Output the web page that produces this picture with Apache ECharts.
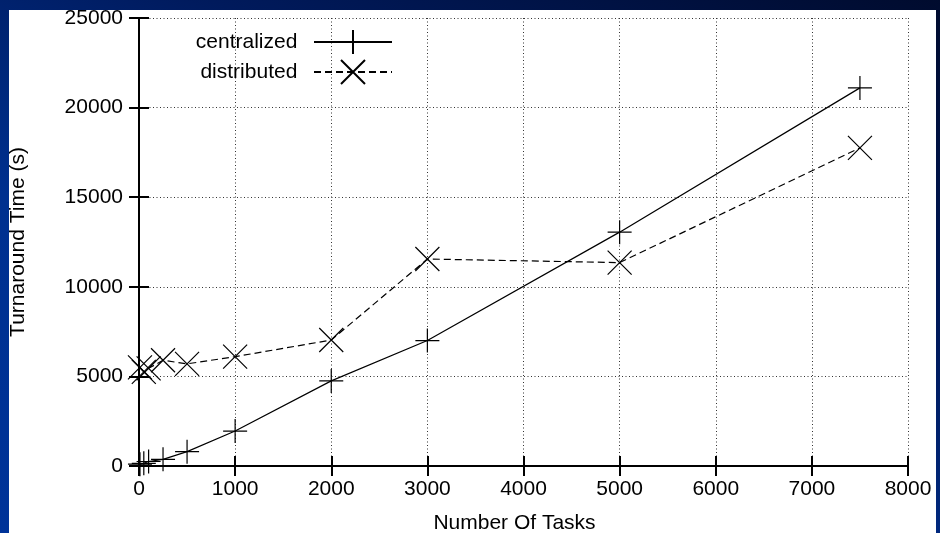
<!DOCTYPE html>
<html>
<head>
<meta charset="utf-8">
<title>Turnaround Time</title>
<script src="https://cdn.jsdelivr.net/npm/echarts@6/dist/echarts.min.js"></script>
<style>
  html, body { margin: 0; padding: 0; width: 940px; height: 533px; overflow: hidden; }
  body { background: linear-gradient(205deg, #000b2e 0%, #001a5c 35%, #00308f 65%, #003399 100%); position: relative; }
  #panel { position: absolute; left: 9px; top: 10px; width: 927px; height: 523px; background: #fff; }
  #main { position: absolute; left: 0; top: 0; width: 940px; height: 533px; }
</style>
</head>
<body>
<div id="panel"></div>
<div id="main"></div>
<script>
// number of tasks
var tasks = [10, 50, 100, 250, 500, 1000, 2000, 3000, 5000, 7500];
// turnaround time (s)
var centralized = [100, 150, 250, 370, 800, 1950, 4750, 7000, 13050, 21100];
var distributed = [5500, 5250, 5450, 5900, 5700, 6100, 7030, 11550, 11350, 17750];

var fontFamily = "'Liberation Sans', Arial, sans-serif";

function pairs(xs, ys) {
  return xs.map(function (x, i) { return [x, ys[i]]; });
}

// plain numbers, no thousands separator
function plain(v) { return String(v); }

var chart = echarts.init(document.getElementById('main'), null, { renderer: 'canvas' });

var frameAxis = {
  axisLine: { show: true, lineStyle: { color: '#000', width: 2 } },
  axisTick: { show: true, inside: true, length: 10, lineStyle: { color: '#000', width: 2 } },
  axisLabel: { show: false },
  splitLine: { show: false }
};

var legendBase = {
  orient: 'vertical',
  right: 547,
  padding: 0,
  align: 'right',
  itemWidth: 78,
  itemHeight: 30,
  formatter: function (name) { return name + '  '; },
  textStyle: { fontSize: 21, color: '#000', fontFamily: fontFamily }
};

var option = {
  backgroundColor: 'transparent',
  animation: false,
  textStyle: { fontFamily: fontFamily },
  grid: { left: 139, right: 32, top: 18, bottom: 67, containLabel: false, outerBoundsMode: 'none' },
  legend: [
    Object.assign({ data: ['centralized'], top: 29 }, legendBase),
    Object.assign({ data: ['distributed'], top: 59 }, legendBase)
  ],
  xAxis: [
    {
      type: 'value',
      min: 0,
      max: 8000,
      interval: 1000,
      name: 'Number Of Tasks',
      nameLocation: 'middle',
      nameGap: 47,
      nameTextStyle: { fontSize: 21, color: '#000', fontFamily: fontFamily, padding: [0, 18, 0, 0] },
      axisLine: { show: true, onZero: false, lineStyle: { color: '#000', width: 2 } },
      axisTick: { show: true, inside: true, length: 10, lineStyle: { color: '#000', width: 2 } },
      axisLabel: { margin: 13, fontSize: 21, color: '#000', fontFamily: fontFamily, formatter: plain },
      splitLine: { show: true, lineStyle: { color: '#333', width: 1, type: [1, 2.5] } }
    },
    Object.assign({ type: 'value', position: 'top', min: 0, max: 8000, interval: 1000 }, frameAxis)
  ],
  yAxis: [
    {
      type: 'value',
      min: 0,
      max: 25000,
      interval: 5000,
      name: 'Turnaround Time (s)',
      nameLocation: 'middle',
      nameGap: 110,
      nameTextStyle: { fontSize: 21, color: '#000', fontFamily: fontFamily },
      axisLine: { show: true, onZero: false, lineStyle: { color: '#000', width: 2 } },
      axisTick: { show: true, inside: true, length: 10, lineStyle: { color: '#000', width: 2 } },
      axisLabel: { margin: 16, fontSize: 21, color: '#000', fontFamily: fontFamily, formatter: plain },
      splitLine: { show: true, lineStyle: { color: '#333', width: 1, type: [1, 2.5] } }
    },
    Object.assign({ type: 'value', position: 'right', min: 0, max: 25000, interval: 5000 }, frameAxis)
  ],
  series: [
    {
      name: 'centralized',
      type: 'line',
      data: pairs(tasks, centralized),
      symbol: 'path://M0,10L20,10M10,0L10,20',
      symbolSize: 24,
      itemStyle: { color: '#000', borderColor: '#000', borderWidth: 1.2 },
      lineStyle: { color: '#000', width: 1.2, type: 'solid' },
      z: 3
    },
    {
      name: 'distributed',
      type: 'line',
      data: pairs(tasks, distributed),
      symbol: 'path://M0,0L20,20M20,0L0,20',
      symbolSize: 24,
      itemStyle: { color: '#000', borderColor: '#000', borderWidth: 1.2 },
      lineStyle: { color: '#000', width: 1.2, type: [7, 4] },
      z: 3
    }
  ]
};

chart.setOption(option);
</script>
</body>
</html>
